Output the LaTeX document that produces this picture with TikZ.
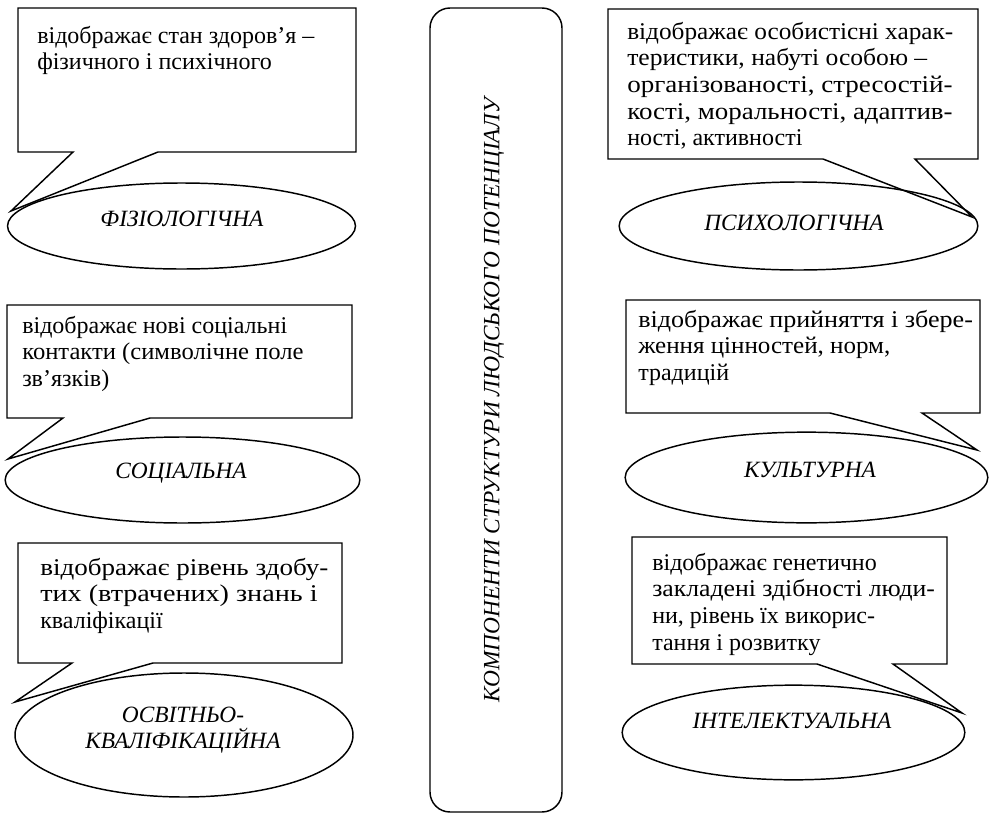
\documentclass[tikz,border=0pt]{standalone}
\usepackage{fontspec}
\usepackage{graphicx}
\setmainfont{Liberation Serif}
\usetikzlibrary{shapes.geometric}
\newcommand{\natsp}{\spaceskip=0pt\relax\xspaceskip=0pt\relax}
\newcommand{\spreadline}[2]{\resizebox{#1}{\height}{\natsp #2}}
\tikzset{
  outline/.style={draw=black, line width=1.1pt, line join=miter},
  boxtext/.style={anchor=base west, inner sep=0pt, text width=260pt, align=left,
    font=\fontsize{18}{20}\selectfont},
  oval/.style={ellipse, outline, inner sep=0pt},
  ovaltext/.style={anchor=base, inner sep=0pt, text width=260pt, align=center,
    font=\fontsize{17.5}{19.5}\selectfont\itshape},
  mainbox/.style={outline, rounded corners=15pt}
}
\begin{document}
\begin{tikzpicture}[x=0.75pt,y=-0.75pt]
\useasboundingbox (0,0) rectangle (990,818);

% central box
\draw[mainbox] (430,8) rectangle (562,812);
\node[rotate=90, inner sep=0pt, font=\fontsize{17.5}{20}\selectfont\itshape] (title) at (494,400)
  {КОМПОНЕНТИ СТРУКТУРИ ЛЮДСЬКОГО ПОТЕНЦІАЛУ};

% ellipses
\node[oval, minimum width=261pt, minimum height=64.5pt] (e1) at (181.5,226) {};
\node[oval, minimum width=269pt, minimum height=66pt] (e2) at (798.5,226) {};
\node[oval, minimum width=266pt, minimum height=64.5pt] (e3) at (182.5,480) {};
\node[oval, minimum width=272pt, minimum height=68pt] (e4) at (806.5,477.5) {};
\node[oval, minimum width=253.5pt, minimum height=93pt] (e5) at (184,735) {};
\node[oval, minimum width=257pt, minimum height=71pt] (e6) at (793.5,732.5) {};

\node[ovaltext] (l1) at (182,226) {ФІЗІОЛОГІЧНА};
\node[ovaltext] (l2) at (794,230) {ПСИХОЛОГІЧНА};
\node[ovaltext] (l3) at (181,478) {СОЦІАЛЬНА};
\node[ovaltext] (l4) at (810,477) {КУЛЬТУРНА};
\node[ovaltext] (l5) at (183,722) {ОСВІТНЬО-\\КВАЛІФІКАЦІЙНА};
\node[ovaltext] (l6) at (792,728) {ІНТЕЛЕКТУАЛЬНА};

% callout tips (on the ellipses)
\coordinate (p1) at (11,211);
\coordinate (p2) at (972,217);
\coordinate (p3) at (8,459);
\coordinate (p4) at (977,450);
\coordinate (p5) at (15,702);
\coordinate (p6) at (962,713);

% callouts
\draw[outline] (18,8) -- (356,8) -- (356,152) -- (158,152) -- (p1) -- (73,152) -- (18,152) -- cycle;
\draw[outline] (608,9) -- (978,9) -- (978,159) -- (915,159) -- (p2) -- (823,159) -- (608,159) -- cycle;
\draw[outline] (7,305) -- (352,305) -- (352,418) -- (150,418) -- (p3) -- (63,418) -- (7,418) -- cycle;
\draw[outline] (626,300) -- (980,300) -- (980,413) -- (922,413) -- (p4) -- (830,413) -- (626,413) -- cycle;
\draw[outline] (18,543) -- (342,543) -- (342,663) -- (153,663) -- (p5) -- (72,663) -- (18,663) -- cycle;
\draw[outline] (632,537) -- (947,537) -- (947,664) -- (893,664) -- (p6) -- (817,664) -- (632,664) -- cycle;

% callout texts
\node[boxtext] (t1) at (37,43) {\natsp відображає стан здоров’я –\\фізичного і психічного};
\node[boxtext] (t2) at (627,39) {\natsp\spreadline{244.5pt}{відображає особистісні харак-}\\\spreadline{225pt}{теристики, набуті особою –}\\\spreadline{244pt}{організованості, стресостій-}\\\spreadline{244pt}{кості, моральності, адаптив-}\\ності, активності};
\node[boxtext] (t3) at (22,333) {\natsp відображає нові соціальні\\\spreadline{211pt}{контакти (символічне поле}\\зв’язків)};
\node[boxtext] (t4) at (638,327) {\natsp\spreadline{251pt}{відображає прийняття і збере-}\\\spreadline{189pt}{ження цінностей, норм,}\\традицій};
\node[boxtext] (t5) at (40,575) {\natsp\spreadline{216pt}{відображає рівень здобу-}\\\spreadline{208pt}{тих (втрачених) знань і}\\кваліфікації};
\begin{scope}
\clip (632,537) rectangle (947,656);
\node[boxtext] (t6) at (652,570) {\natsp відображає генетично\\\spreadline{212pt}{закладені здібності люди-}\\ни, рівень їх викорис-\\тання і розвитку};
\end{scope}
\end{tikzpicture}
\end{document}
